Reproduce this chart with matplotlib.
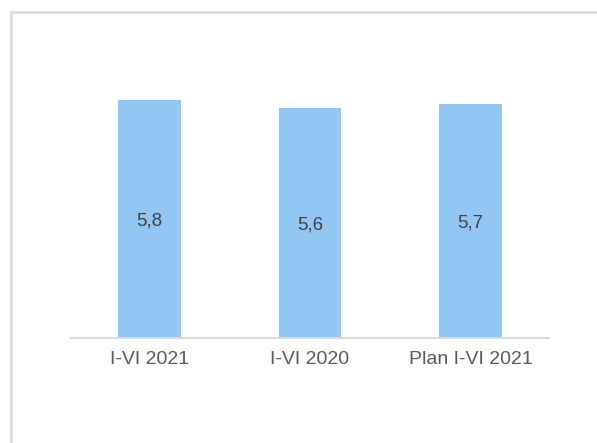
import matplotlib.pyplot as plt
from matplotlib.lines import Line2D

categories = ['I-VI 2021', 'I-VI 2020', 'Plan I-VI 2021']
values = [5.8, 5.6, 5.7]
value_labels = ['5,8', '5,6', '5,7']

plt.rcParams['font.family'] = ['Liberation Sans', 'DejaVu Sans']

W, H = 597, 443
fig = plt.figure(figsize=(W / 100, H / 100), dpi=100)
ax = fig.add_axes([71 / W, (H - 338) / H, (549 - 71) / W, (338 - 40) / H])

x = range(len(categories))
bars = ax.bar(x, values, width=0.39, color='#92c7f3')

for b, lab in zip(bars, value_labels):
    ax.annotate(lab, (b.get_x() + b.get_width() / 2, b.get_height() / 2),
                xytext=(0, -1.5), textcoords='offset points',
                ha='center', va='center', fontsize=13.5, color='#404040')

ax.set_xlim(-0.489, 2.489)
ax.set_ylim(0, 5.8 * (338 - 40) / (338 - 100))
ax.set_xticks(list(x))
ax.set_xticklabels(categories, fontsize=14, color='#595959')
ax.tick_params(axis='x', length=0, pad=9)
ax.set_yticks([])
for s in ['top', 'right', 'left']:
    ax.spines[s].set_visible(False)
ax.spines['bottom'].set_color('#d9d9d9')
ax.spines['bottom'].set_linewidth(1.5)

# outer frame (top and left edges visible)
fig.add_artist(Line2D([10.5 / W, 1.0], [1 - 11.5 / H, 1 - 11.5 / H],
                      transform=fig.transFigure, color='#d9d9d9', lw=1.8))
fig.add_artist(Line2D([10.5 / W, 10.5 / W], [0, 1 - 11.5 / H],
                      transform=fig.transFigure, color='#d9d9d9', lw=1.8))

fig.savefig('out.png', dpi=100)
